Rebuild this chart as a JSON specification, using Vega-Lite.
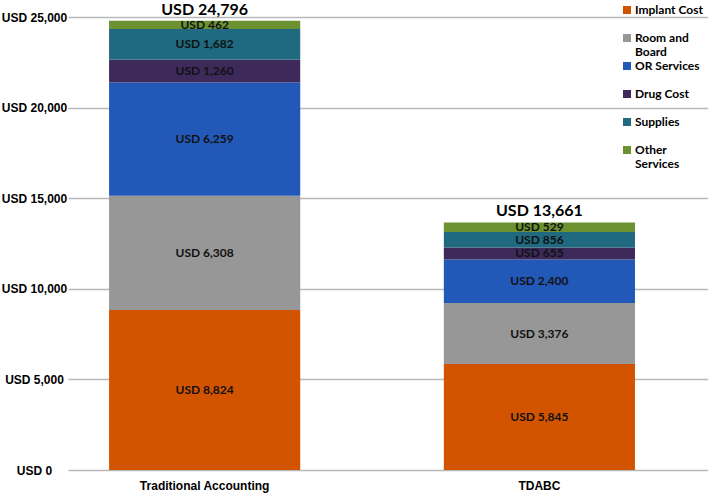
{
  "$schema": "https://vega.github.io/schema/vega-lite/v6.json",
  "width": 640,
  "height": 453,
  "autosize": {"type": "none"},
  "padding": {"left": 68, "top": 17, "right": 0, "bottom": 28},
  "background": "white",
  "config": {"view": {"stroke": null}, "font": "Lato"},
  "datasets": {
    "costs": [
      {"method": "Traditional Accounting", "category": "Implant Cost", "value": 8824},
      {"method": "Traditional Accounting", "category": "Room and Board", "value": 6308},
      {"method": "Traditional Accounting", "category": "OR Services", "value": 6259},
      {"method": "Traditional Accounting", "category": "Drug Cost", "value": 1260},
      {"method": "Traditional Accounting", "category": "Supplies", "value": 1682},
      {"method": "Traditional Accounting", "category": "Other Services", "value": 462},
      {"method": "TDABC", "category": "Implant Cost", "value": 5845},
      {"method": "TDABC", "category": "Room and Board", "value": 3376},
      {"method": "TDABC", "category": "OR Services", "value": 2400},
      {"method": "TDABC", "category": "Drug Cost", "value": 655},
      {"method": "TDABC", "category": "Supplies", "value": 856},
      {"method": "TDABC", "category": "Other Services", "value": 529}
    ],
    "totals": [
      {"method": "Traditional Accounting", "total": 24796},
      {"method": "TDABC", "total": 13661}
    ]
  },
  "encoding": {
    "x": {
      "field": "method",
      "type": "nominal",
      "sort": ["Traditional Accounting", "TDABC"],
      "scale": {"paddingInner": 0.429, "paddingOuter": 0.1704, "align": 0.36},
      "axis": {
        "title": null,
        "labelAngle": 0,
        "domain": false,
        "ticks": false,
        "grid": false,
        "labelFont": "Liberation Sans",
        "labelFontWeight": "bold",
        "labelFontSize": 12,
        "labelColor": "#000000",
        "labelPadding": 10
      }
    }
  },
  "layer": [
    {
      "data": {"name": "costs"},
      "transform": [
        {"calculate": "indexof(['Implant Cost','Room and Board','OR Services','Drug Cost','Supplies','Other Services'], datum.category)", "as": "rank"},
        {"stack": "value", "groupby": ["method"], "sort": [{"field": "rank", "order": "ascending"}], "as": ["y0", "y1"]},
        {"calculate": "(datum.y0 + datum.y1) / 2", "as": "mid"},
        {"calculate": "'USD ' + format(datum.value, ',')", "as": "lbl"}
      ],
      "layer": [
        {
          "mark": {"type": "bar"},
          "encoding": {
            "y": {
              "field": "y1",
              "type": "quantitative",
              "scale": {"domain": [0, 25000], "nice": false},
              "axis": {
                "title": null,
                "values": [0, 5000, 10000, 15000, 20000, 25000],
                "labelExpr": "'USD ' + format(datum.value, ',')",
                "labelFont": "Liberation Sans",
                "labelFontWeight": "bold",
                "labelFontSize": 12,
                "labelColor": "#000000",
                "labelAlign": "center",
                "labelPadding": 34,
                "domain": false,
                "ticks": false,
                "grid": true,
                "gridColor": "#b8b8b8",
                "gridWidth": 1.5
              }
            },
            "y2": {"field": "y0"},
            "color": {
              "field": "category",
              "type": "nominal",
              "sort": ["Implant Cost", "Room and Board", "OR Services", "Drug Cost", "Supplies", "Other Services"],
              "scale": {
                "domain": ["Implant Cost", "Room and Board", "OR Services", "Drug Cost", "Supplies", "Other Services"],
                "range": ["#d35400", "#979797", "#2258b8", "#3d2a5a", "#1f6a80", "#6b9130"]
              },
              "legend": {
                "orient": "none",
                "legendX": 553,
                "legendY": -13,
                "title": null,
                "symbolType": "square",
                "symbolSize": 64,
                "symbolStrokeWidth": 0,
                "labelFont": "Lato",
                "labelFontWeight": "bold",
                "labelFontSize": 12,
                "labelColor": "#000000",
                "labelOffset": 2,
                "gridAlign": "all",
                "rowPadding": 2,
                "labelExpr": "datum.label == 'Room and Board' ? ['Room and', 'Board'] : datum.label == 'Other Services' ? ['Other', 'Services'] : datum.label"
              }
            }
          }
        },
        {
          "mark": {"type": "text", "font": "Lato", "fontWeight": "bold", "fontSize": 12, "color": "#111111", "baseline": "middle"},
          "encoding": {
            "y": {"field": "mid", "type": "quantitative"},
            "text": {"field": "lbl", "type": "nominal"}
          }
        }
      ]
    },
    {
      "data": {"name": "totals"},
      "transform": [
        {"calculate": "'USD ' + format(datum.total, ',')", "as": "tlbl"}
      ],
      "mark": {"type": "text", "font": "Lato", "fontWeight": "bold", "fontSize": 16, "color": "#000000", "baseline": "alphabetic", "dy": -6},
      "encoding": {
        "y": {"field": "total", "type": "quantitative"},
        "text": {"field": "tlbl", "type": "nominal"}
      }
    }
  ]
}
